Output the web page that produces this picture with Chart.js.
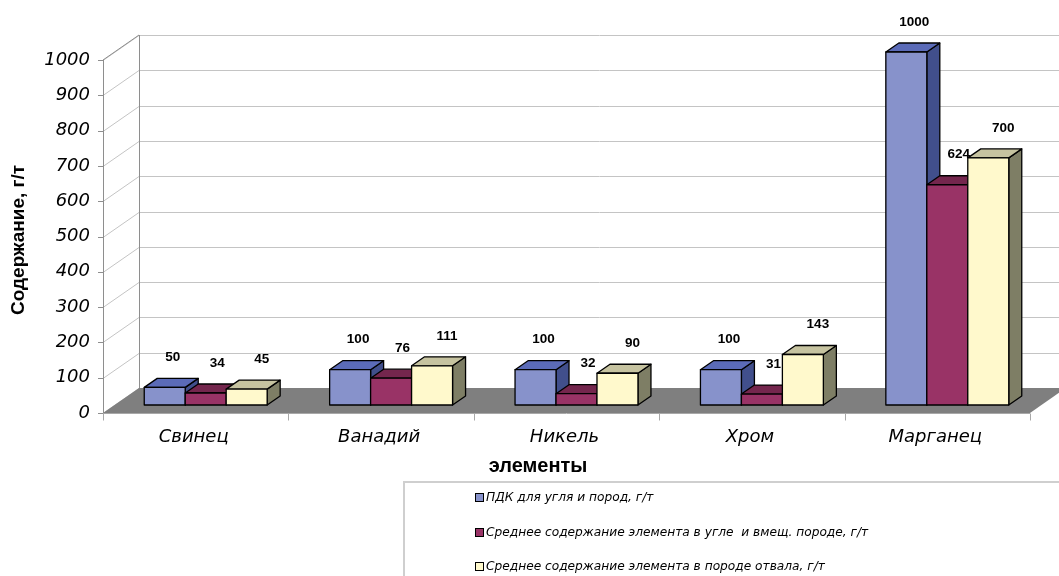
<!DOCTYPE html>
<html>
<head>
<meta charset="utf-8">
<script src="https://cdn.jsdelivr.net/npm/chart.js@4.4.1/dist/chart.umd.min.js"></script>
<style>
  html, body { margin: 0; padding: 0; background: #fff; }
  #wrap { width: 1059px; height: 576px; }
</style>
</head>
<body>
<div id="wrap"><canvas id="chart"></canvas></div>
<script>
// data
const categories = ['Свинец', 'Ванадий', 'Никель', 'Хром', 'Марганец'];
const seriesNames = [
    'ПДК для угля и пород, г/т',
    'Среднее содержание элемента в угле  и вмещ. породе, г/т',
    'Среднее содержание элемента в породе отвала, г/т'
];
const pdkValues = [50, 100, 100, 100, 1000];
const coalValues = [34, 76, 32, 31, 624];
const dumpValues = [45, 111, 90, 143, 700];
const yMax = 1000;
const yStep = 100;
const yTitle = 'Содержание, г/т';
const xTitle = 'элементы';

// face colours: front, top, side
const faces = [
    ['#8792cb', '#5b6bb8', '#414f8c'],
    ['#993366', '#74264d', '#5c1d3d'],
    ['#fff9cc', '#c6c3a0', '#7e7e65']
];

// depth offsets (px)
const BAR_D = { x: 13, y: 9 };
const BACK = { x: 26, y: 17 };
const FRONT = { x: -10, y: 8 };

function poly(ctx, pts) {
    ctx.beginPath();
    ctx.moveTo(pts[0][0], pts[0][1]);
    for (let i = 1; i < pts.length; i++) ctx.lineTo(pts[i][0], pts[i][1]);
    ctx.closePath();
    ctx.fill();
    ctx.stroke();
}

const scene3d = {
    id: 'scene3d',
    beforeDatasetsDraw(chart) {
        const { ctx, chartArea: a, scales: { y } } = chart;
        const y0 = y.getPixelForValue(0);
        const yT = y.getPixelForValue(yMax);
        const fl = a.left + FRONT.x, fr = a.right + FRONT.x;
        const bl = a.left + BACK.x, br = a.right + BACK.x;
        ctx.save();
        ctx.lineWidth = 1;

        // grid on side and back walls
        ctx.strokeStyle = '#c4c4c4';
        y.ticks.forEach(t => {
            const py = Math.round(y.getPixelForValue(t.value)) + 0.5;
            ctx.beginPath();
            ctx.moveTo(fl, py + FRONT.y);
            ctx.lineTo(bl, py - BACK.y);
            ctx.lineTo(br, py - BACK.y);
            ctx.stroke();
        });

        // wall edges and front axis
        ctx.strokeStyle = '#8e8e8e';
        ctx.beginPath();
        ctx.moveTo(Math.round(fl) + 0.5, yT + FRONT.y);
        ctx.lineTo(Math.round(fl) + 0.5, y0 + FRONT.y);
        ctx.moveTo(Math.round(bl) + 0.5, yT - BACK.y);
        ctx.lineTo(Math.round(bl) + 0.5, y0 - BACK.y);
        ctx.moveTo(fl, yT + FRONT.y);
        ctx.lineTo(bl, yT - BACK.y);
        ctx.stroke();

        // y tick marks
        y.ticks.forEach(t => {
            const py = Math.round(y.getPixelForValue(t.value) + FRONT.y) + 0.5;
            ctx.beginPath();
            ctx.moveTo(fl - 5, py);
            ctx.lineTo(fl, py);
            ctx.stroke();
        });

        // floor
        ctx.fillStyle = '#7f7f7f';
        ctx.beginPath();
        ctx.moveTo(fl, y0 + FRONT.y);
        ctx.lineTo(fr, y0 + FRONT.y);
        ctx.lineTo(br, y0 - BACK.y);
        ctx.lineTo(bl, y0 - BACK.y);
        ctx.closePath();
        ctx.fill();

        // x axis line and tick marks
        const ya = Math.round(y0 + FRONT.y) + 0.5;
        ctx.strokeStyle = '#a8a8a8';
        ctx.beginPath();
        ctx.moveTo(fl, ya);
        ctx.lineTo(fr, ya);
        const n = categories.length;
        for (let k = 0; k <= n; k++) {
            const px = Math.round(fl + (fr - fl) * k / n) + 0.5;
            ctx.moveTo(px, ya);
            ctx.lineTo(px, ya + 7);
        }
        ctx.stroke();
        ctx.restore();
    },
    afterDatasetsDraw(chart) {
        const { ctx } = chart;
        ctx.save();
        ctx.strokeStyle = '#000';
        ctx.lineWidth = 1.3;
        ctx.lineJoin = 'round';
        const labels = [];
        categories.forEach((c, i) => {
            chart.data.datasets.forEach((ds, d) => {
                const el = chart.getDatasetMeta(d).data[i];
                const p = el.getProps(['x', 'y', 'base', 'width'], true);
                const l = p.x - p.width / 2, r = p.x + p.width / 2;
                const t = p.y, b = p.base;
                const f = faces[d];
                ctx.fillStyle = f[2];
                poly(ctx, [[r, t], [r + BAR_D.x, t - BAR_D.y], [r + BAR_D.x, b - BAR_D.y], [r, b]]);
                ctx.fillStyle = f[1];
                poly(ctx, [[l, t], [r, t], [r + BAR_D.x, t - BAR_D.y], [l + BAR_D.x, t - BAR_D.y]]);
                ctx.fillStyle = f[0];
                poly(ctx, [[l, t], [r, t], [r, b], [l, b]]);
                labels.push([String(ds.data[i]), p.x + 8 + d * 3.5, t - 30]);
            });
        });
        ctx.fillStyle = '#000';
        ctx.font = 'bold 13.5px "Liberation Sans", Arial, sans-serif';
        ctx.textAlign = 'center';
        ctx.textBaseline = 'middle';
        labels.forEach(([s, lx, ly]) => ctx.fillText(s, lx, ly));
        ctx.restore();
    },
    afterDraw(chart) {
        const { ctx } = chart;
        ctx.save();
        ctx.fillStyle = '#000';
        ctx.textAlign = 'center';
        ctx.textBaseline = 'middle';
        // axis titles
        ctx.font = 'bold 20px "Liberation Sans", Arial, sans-serif';
        ctx.fillText(xTitle, 538, 466);
        ctx.save();
        ctx.translate(19, 240);
        ctx.rotate(-Math.PI / 2);
        ctx.font = 'bold 19px "Liberation Sans", Arial, sans-serif';
        ctx.fillText(yTitle, 0, 0);
        ctx.restore();

        // legend
        ctx.strokeStyle = '#cfcfcf';
        ctx.lineWidth = 2;
        ctx.strokeRect(404, 482, 700, 200);
        ctx.textAlign = 'left';
        ctx.font = 'italic 12.2px "DejaVu Sans", sans-serif';
        ctx.lineWidth = 1;
        ctx.strokeStyle = '#000';
        chart.data.datasets.forEach((ds, d) => {
            const ry = 498 + d * 34.5;
            ctx.fillStyle = faces[d][0];
            ctx.fillRect(475.5, Math.round(ry) - 4.5, 8, 8);
            ctx.strokeRect(475.5, Math.round(ry) - 4.5, 8, 8);
            ctx.fillStyle = '#000';
            ctx.fillText(ds.label, 486, ry);
        });
        ctx.restore();
    }
};

new Chart(document.getElementById('chart'), {
    type: 'bar',
    data: {
        labels: categories,
        datasets: [pdkValues, coalValues, dumpValues].map((vals, d) => ({
            label: seriesNames[d],
            data: vals,
            backgroundColor: faces[d][0],
            borderWidth: 0,
            categoryPercentage: 0.663,
            barPercentage: 1
        }))
    },
    options: {
        responsive: true,
        maintainAspectRatio: false,
        animation: false,
        layout: { padding: { top: 52, right: 19, bottom: 96, left: 0 } },
        plugins: {
            legend: { display: false },
            tooltip: { enabled: false }
        },
        scales: {
            x: {
                grid: { display: false, drawTicks: false },
                border: { display: false },
                ticks: {
                    color: '#000',
                    padding: 22,
                    labelOffset: -12,
                    font: { family: '"DejaVu Sans", sans-serif', size: 18, style: 'italic' }
                },
                afterFit: (s) => { s.height = 75; }
            },
            y: {
                min: 0,
                max: yMax,
                grid: { display: false, drawTicks: false },
                border: { display: false },
                ticks: {
                    stepSize: yStep,
                    color: '#000',
                    padding: 23,
                    labelOffset: 8,
                    callback: (v) => String(v),
                    font: { family: '"DejaVu Sans", sans-serif', size: 18, style: 'italic' }
                },
                afterFit: (s) => { s.width = 113; }
            }
        }
    },
    plugins: [scene3d]
});
</script>
</body>
</html>
